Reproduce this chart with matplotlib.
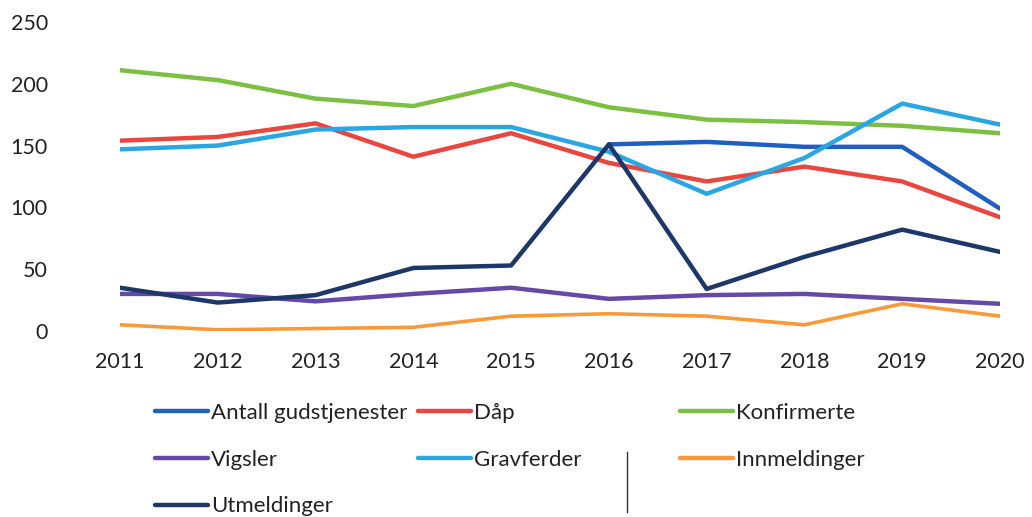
import numpy as np
import matplotlib
matplotlib.use("Agg")
import matplotlib.pyplot as plt
from matplotlib.lines import Line2D

years = [2011, 2012, 2013, 2014, 2015, 2016, 2017, 2018, 2019, 2020]
antall = [np.nan, np.nan, np.nan, np.nan, np.nan, 151, 153, 149, 149, 99]
daap = [154, 157, 168, 141, 160, 136, 121, 133, 121, 92]
konfirmerte = [211, 203, 188, 182, 200, 181, 171, 169, 166, 160]
vigsler = [30, 30, 24, 30, 35, 26, 29, 30, 26, 22]
gravferder = [147, 150, 163, 165, 165, 145, 111, 140, 184, 167]
innmeldinger = [5, 1, 2, 3, 12, 14, 12, 5, 22, 12]
utmeldinger = [35, 23, 29, 51, 53, 151, 34, 60, 82, 64]

names = ["Antall gudstjenester", "Dåp", "Konfirmerte", "Vigsler",
         "Gravferder", "Innmeldinger", "Utmeldinger"]
series = [antall, daap, konfirmerte, vigsler, gravferder, innmeldinger, utmeldinger]
colors = ["#1f5fc0", "#e8463f", "#7cc043", "#6549a6", "#2aa6e2", "#f99a3a", "#1c3768"]
yticks = [0, 50, 100, 150, 200, 250]

plt.rcParams['font.family'] = ['Lato', 'DejaVu Sans']
fig = plt.figure(figsize=(10.32, 5.17), dpi=100)
ax = fig.add_axes([120/1032, 1-331/517, (1000-120)/1032, (331-22)/517])

handles = {}
for name, vals, c in zip(names, series, colors):
    lw = 2.6 if name == "Innmeldinger" else 3.2
    h, = ax.plot(years, vals, color=c, lw=lw, solid_capstyle='round',
                 solid_joinstyle='round')
    handles[name] = h

ax.set_xlim(2011, 2020)
ax.set_ylim(0, 250)
ax.set_yticks(yticks)
ax.set_xticks(years)
for s in ax.spines.values():
    s.set_visible(False)
ax.tick_params(axis='y', length=0, pad=52, labelsize=15.5, colors='#222222')
ax.tick_params(axis='x', length=0, pad=15, labelsize=15.5, colors='#222222')
for lab in ax.get_yticklabels():
    lab.set_horizontalalignment('right')

cols = [["Antall gudstjenester", "Vigsler", "Utmeldinger"],
        ["Dåp", "Gravferder"],
        ["Konfirmerte", "Innmeldinger"]]
xs = [155, 418, 680]
for col, x in zip(cols, xs):
    hs = [Line2D([], [], color=handles[n].get_color(), lw=3.2, solid_capstyle='round') for n in col]
    leg = fig.legend(hs, col, loc='upper left', bbox_to_anchor=(x/1032, 1-403/517),
                     frameon=False, fontsize=16, handlelength=2.4, handletextpad=0.12,
                     borderpad=0, borderaxespad=0, labelspacing=1.2, labelcolor='#222222')

# scan artifact mark
fig.add_artist(Line2D([627/1032, 627/1032], [1-452/517, 1-512/517], color='#333333', lw=1.0))

fig.savefig("out.png", dpi=100)
